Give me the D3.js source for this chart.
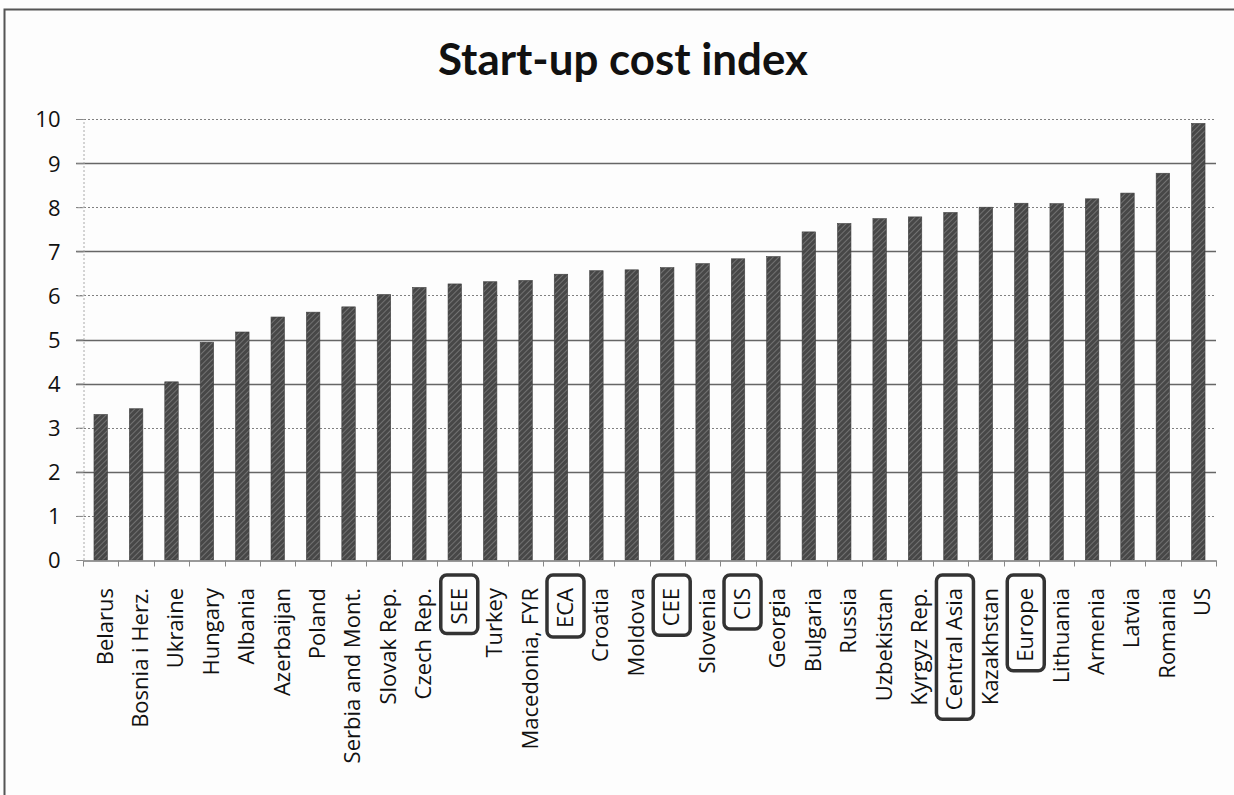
<!DOCTYPE html>
<html>
<head>
<meta charset="utf-8">
<script src="https://cdn.jsdelivr.net/npm/d3@7"></script>
<style>
  html, body { margin: 0; padding: 0; background: #ffffff; overflow: hidden; }
  svg { display: block; }
</style>
</head>
<body>
<svg id="chart" width="1234" height="795"></svg>
<script>
const title = "Start-up cost index";
const categories = ["Belarus","Bosnia i Herz.","Ukraine","Hungary","Albania","Azerbaijan","Poland","Serbia and Mont.","Slovak Rep.","Czech Rep.","SEE","Turkey","Macedonia, FYR","ECA","Croatia","Moldova","CEE","Slovenia","CIS","Georgia","Bulgaria","Russia","Uzbekistan","Kyrgyz Rep.","Central Asia","Kazakhstan","Europe","Lithuania","Armenia","Latvia","Romania","US"];
const values = [3.30,3.43,4.04,4.94,5.17,5.51,5.62,5.74,6.02,6.18,6.26,6.31,6.34,6.48,6.56,6.58,6.63,6.72,6.83,6.88,7.44,7.63,7.74,7.78,7.88,8.00,8.09,8.08,8.19,8.32,8.77,9.90];
const boxedCategories = ["SEE","ECA","CEE","CIS","Central Asia","Europe"];
const yTickValues = [0,1,2,3,4,5,6,7,8,9,10];

const svg = d3.select("#chart");
const W = 1234, H = 795;
const plot = { left: 83, right: 1216, top: 119, bottom: 560 };

// background and outer frame (top and left edges visible)
svg.append("rect").attr("x", 0).attr("y", 0).attr("width", W).attr("height", H).attr("fill", "#fdfdfd");
svg.append("path").attr("d", `M4.5,${H} V9.5 H${W}`)
  .attr("fill", "none").attr("stroke", "#555").attr("stroke-width", 2);

// hatch pattern
const defs = svg.append("defs");
const pat = defs.append("pattern").attr("id", "hatch").attr("patternUnits", "userSpaceOnUse")
  .attr("width", 4).attr("height", 4).attr("patternTransform", "rotate(45)");
pat.append("rect").attr("width", 4).attr("height", 4).attr("fill", "#474747");
pat.append("line").attr("x1", 0).attr("y1", 0).attr("x2", 0).attr("y2", 4)
  .attr("stroke", "#8a8a8a").attr("stroke-width", 1.3);

const x = d3.scaleBand().domain(categories).range([plot.left, plot.right])
  .paddingInner(0.62).paddingOuter(0.31);
const y = d3.scaleLinear().domain([0, 10]).range([plot.bottom, plot.top]);

// title
svg.append("text").attr("x", 623).attr("y", 75).attr("text-anchor", "middle")
  .attr("font-family", "Lato, 'Open Sans', sans-serif").attr("font-weight", "bold")
  .attr("font-size", 44).attr("fill", "#111")
  .attr("textLength", 370).attr("lengthAdjust", "spacingAndGlyphs")
  .text(title);

// gridlines
const dotted = new Set([1, 3, 6, 8, 10]);
const grid = svg.append("g");
grid.selectAll("line").data(yTickValues.filter(d => d > 0)).join("line")
  .attr("x1", plot.left - 7).attr("x2", plot.right)
  .attr("y1", d => Math.round(y(d)) + 0.5).attr("y2", d => Math.round(y(d)) + 0.5)
  .attr("stroke", d => dotted.has(d) ? "#808080" : "#666")
  .attr("stroke-width", d => dotted.has(d) ? 1.2 : 1.5)
  .attr("stroke-dasharray", d => dotted.has(d) ? "2,2" : null);

// y axis
const yAxis = d3.axisLeft(y).tickValues(yTickValues).tickSize(7).tickPadding(16);
const gy = svg.append("g").attr("transform", `translate(${plot.left + 0.5},0)`).call(yAxis);
gy.select(".domain").attr("stroke", "#aaa").attr("stroke-dasharray", "2,2");
gy.selectAll(".tick line").attr("stroke", "#888");
gy.selectAll(".tick text").attr("font-family", "'Open Sans', sans-serif").attr("font-size", 22)
  .attr("fill", "#111").attr("dy", "0.36em");

// bars
svg.append("g").selectAll("rect").data(categories).join("rect")
  .attr("x", d => x(d)).attr("width", x.bandwidth())
  .attr("y", (d, i) => y(values[i])).attr("height", (d, i) => y(0) - y(values[i]))
  .attr("fill", "url(#hatch)").attr("stroke", "#404040").attr("stroke-width", 0.6);

// x axis baseline + ticks
const xAxis = d3.axisBottom(x).tickSize(0).tickFormat("");
const gx = svg.append("g").attr("transform", `translate(0,${plot.bottom + 0.5})`).call(xAxis);
gx.select(".domain").attr("stroke", "#777").attr("stroke-width", 1.4);
const step = x.step();
gx.append("g").selectAll("line").data(d3.range(categories.length + 1)).join("line")
  .attr("x1", i => Math.round(plot.left + i * step) + 0.5).attr("x2", i => Math.round(plot.left + i * step) + 0.5)
  .attr("y1", 0).attr("y2", 6).attr("stroke", "#888");

// x labels (rotated)
const labels = svg.append("g");
categories.forEach((c) => {
  const cx = x(c) + x.bandwidth() / 2 + 4;
  const g = labels.append("g").attr("transform", `translate(${cx},588) rotate(-90)`);
  const t = g.append("text").attr("x", 0).attr("y", 0).attr("dy", "0.36em")
    .attr("text-anchor", "end").attr("font-family", "'Open Sans', sans-serif")
    .attr("font-size", 22).attr("fill", "#111").text(c);
  if (boxedCategories.includes(c)) {
    const len = t.node().getComputedTextLength();
    g.insert("rect", "text").attr("x", -len - 9).attr("y", -18).attr("width", len + 22).attr("height", 37)
      .attr("rx", 6).attr("ry", 6).attr("fill", "none").attr("stroke", "#333").attr("stroke-width", 3.5);
  }
});
</script>
</body>
</html>
